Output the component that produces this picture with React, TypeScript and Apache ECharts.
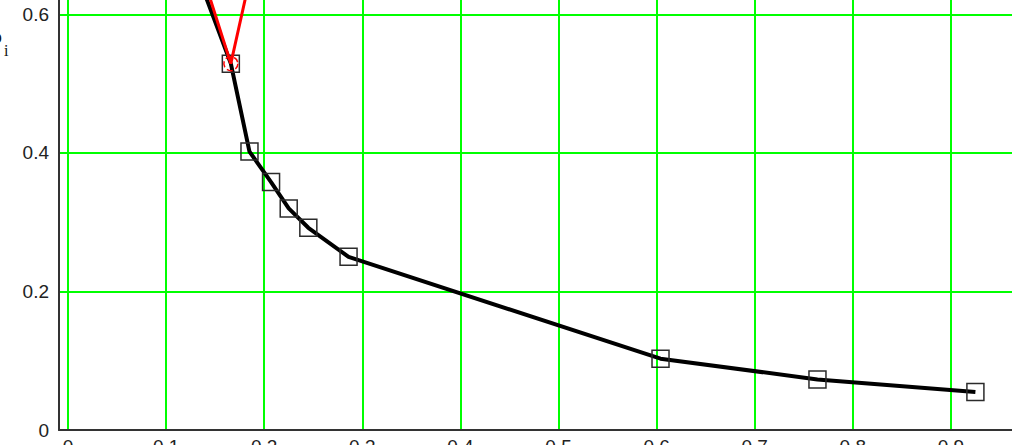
import React, { useEffect, useRef } from "react";
import * as echarts from "echarts";

// Black curve (ρ_i), first point lies above the visible window (estimated)
const blackX = [0.119, 0.166, 0.185, 0.207, 0.225, 0.245, 0.286, 0.604, 0.764, 0.925];
const blackY = [0.707, 0.529, 0.402, 0.358, 0.32, 0.292, 0.25, 0.103, 0.073, 0.055];

// Red curve: V shape meeting at the first visible black point (outer points estimated)
const redX = [0.126, 0.166, 0.194];
const redY = [0.707, 0.529, 0.707];

const xMin = -0.00917;
const xMax = 0.9623;
const yMin = 0;
const yMax = 0.6209;
const yTickStep = 0.2;

const FONT = "'Liberation Sans', Arial, sans-serif";

export default function App() {
  const ref = useRef<HTMLDivElement>(null);

  useEffect(() => {
    if (!ref.current) return;
    const chart = echarts.init(ref.current, undefined, { renderer: "svg" });
    const black = blackX.map((x, i) => [x, blackY[i]]);
    const red = redX.map((x, i) => [x, redY[i]]);

    chart.setOption({
      animation: false,
      backgroundColor: "#ffffff",
      grid: { left: 59, right: 0, top: 0, bottom: 15, containLabel: false, outerBoundsMode: "none" },
      xAxis: {
        type: "value",
        min: xMin,
        max: xMax,
        splitNumber: 10,
        minInterval: 0.1,
        maxInterval: 0.1,
        axisLine: { show: true, onZero: false, lineStyle: { color: "#333333", width: 2 } },
        axisTick: { show: false },
        axisLabel: {
          showMinLabel: false,
          showMaxLabel: false,
          margin: 7,
          fontSize: 19,
          color: "#222222",
          fontFamily: FONT,
        },
        splitLine: {
          show: true,
          showMinLine: false,
          showMaxLine: false,
          lineStyle: { color: "#00ff00", width: 2 },
        },
      },
      yAxis: {
        type: "value",
        min: yMin,
        max: yMax,
        interval: yTickStep,
        axisLine: { show: true, onZero: false, lineStyle: { color: "#333333", width: 2 } },
        axisTick: { show: false },
        axisLabel: {
          showMaxLabel: false,
          margin: 10,
          fontSize: 19,
          color: "#222222",
          fontFamily: FONT,
        },
        splitLine: {
          show: true,
          showMinLine: false,
          showMaxLine: false,
          lineStyle: { color: "#00ff00", width: 2 },
        },
      },
      graphic: [
        {
          type: "text",
          x: -8,
          y: 26,
          style: { text: "ρ", font: "20px 'Liberation Serif', serif", fill: "#111111" },
        },
        {
          type: "text",
          x: 4,
          y: 42,
          style: { text: "i", font: "16px 'Liberation Serif', serif", fill: "#111111" },
        },
      ],
      series: [
        {
          type: "line",
          data: black,
          symbol: "rect",
          symbolSize: 17,
          showAllSymbol: true,
          clip: true,
          lineStyle: { color: "#000000", width: 4 },
          itemStyle: { color: "rgba(0,0,0,0)", borderColor: "#2b2b2b", borderWidth: 1.5 },
          emphasis: { disabled: true },
          z: 3,
        },
        {
          type: "line",
          data: red,
          symbol: "circle",
          symbolSize: 14,
          clip: true,
          lineStyle: { color: "#ff0000", width: 3 },
          itemStyle: {
            color: "rgba(0,0,0,0)",
            borderColor: "#ff0000",
            borderWidth: 1.5,
            borderType: "dashed",
          },
          emphasis: { disabled: true },
          z: 4,
        },
      ],
    });

    return () => chart.dispose();
  }, []);

  return (
    <div
      ref={ref}
      style={{ position: "fixed", left: 0, top: 0, width: 1012, height: 445, background: "#fff" }}
    />
  );
}
